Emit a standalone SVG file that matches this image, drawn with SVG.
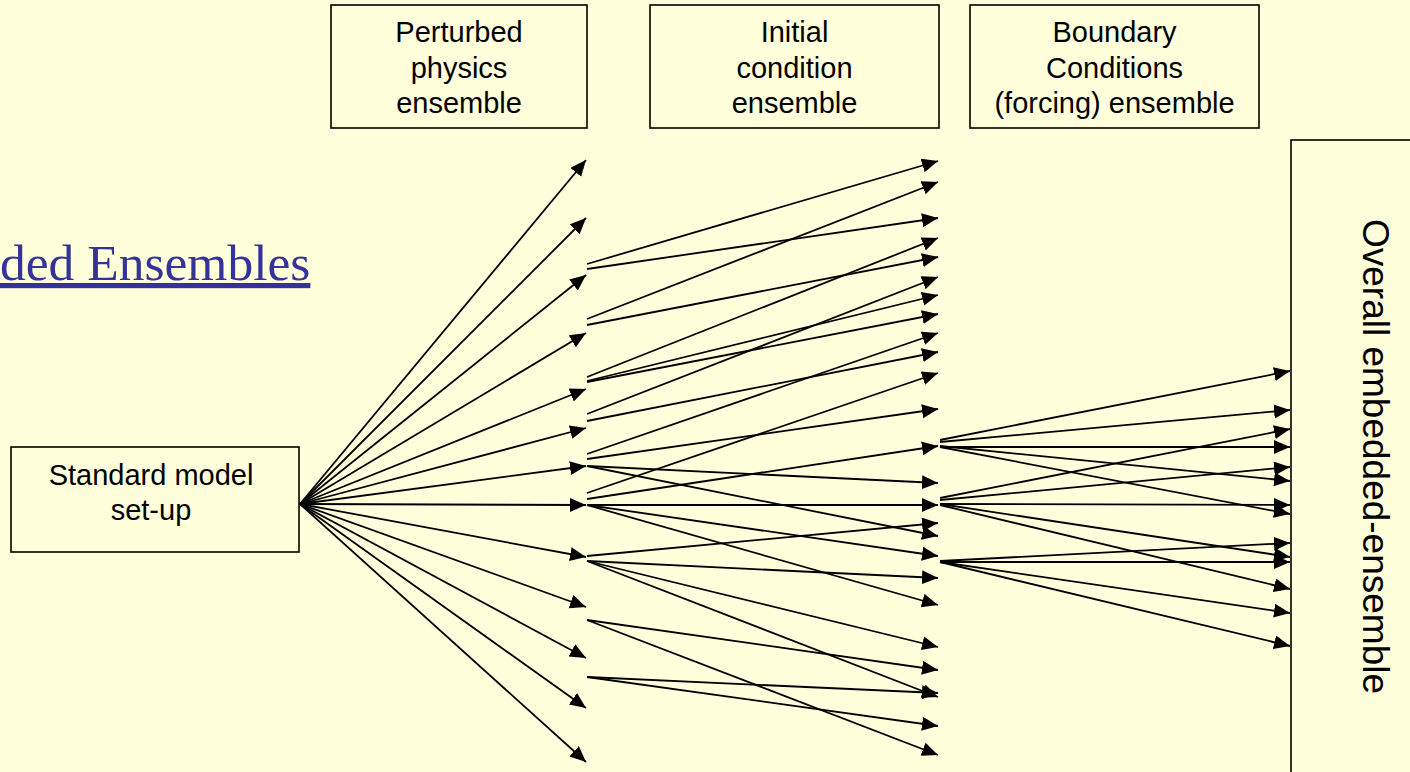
<svg xmlns="http://www.w3.org/2000/svg" width="1410" height="772" viewBox="0 0 1410 772">
<defs>
<marker id="ah" markerUnits="userSpaceOnUse" markerWidth="17" markerHeight="15" refX="16" refY="7" orient="auto">
<path d="M0,0 L16,7 L0,14 z" fill="#000"/>
</marker>
<style>
.box{fill:none;stroke:#000;stroke-width:1.6}
.lbl{font-family:"Liberation Sans",Arial,sans-serif;font-size:29px;fill:#000;text-anchor:middle}
.c line{stroke:#000;stroke-width:1.8;marker-end:url(#ah)}
</style>
</defs>
<rect width="1410" height="772" fill="#FFFFDC"/>
<text x="0" y="280" font-family="Liberation Serif,'Times New Roman',serif" font-size="51.5" fill="#333399" text-decoration="underline">ded Ensembles</text>

<g id="standard">
<rect class="box" x="11" y="447" width="288" height="105"/>
<text class="lbl" x="151" y="485">Standard model</text>
<text class="lbl" x="151" y="520">set-up</text>
</g>
<g id="perturbed">
<rect class="box" x="331" y="5" width="256" height="123"/>
<text class="lbl" x="459" y="42">Perturbed</text>
<text class="lbl" x="459" y="78">physics</text>
<text class="lbl" x="459" y="113">ensemble</text>
</g>
<g id="initial">
<rect class="box" x="650" y="5" width="289" height="123"/>
<text class="lbl" x="794.5" y="42">Initial</text>
<text class="lbl" x="794.5" y="78">condition</text>
<text class="lbl" x="794.5" y="113">ensemble</text>
</g>
<g id="boundary">
<rect class="box" x="970" y="5" width="289" height="123"/>
<text class="lbl" x="1114.5" y="42">Boundary</text>
<text class="lbl" x="1114.5" y="78">Conditions</text>
<text class="lbl" x="1114.5" y="113">(forcing) ensemble</text>
</g>
<g id="overall">
<rect class="box" x="1291" y="140" width="130" height="650"/>
<text class="lbl" style="font-size:37px" transform="translate(1363,456.5) rotate(90)">Overall embedded-ensemble</text>
</g>

<g id="connectors" class="c">
<line x1="300" y1="504" x2="586" y2="160"/>
<line x1="300" y1="504" x2="586" y2="218"/>
<line x1="300" y1="504" x2="586" y2="275"/>
<line x1="300" y1="504" x2="586" y2="333"/>
<line x1="300" y1="504" x2="586" y2="389"/>
<line x1="300" y1="504" x2="586" y2="428"/>
<line x1="300" y1="504" x2="586" y2="466"/>
<line x1="300" y1="504" x2="586" y2="505"/>
<line x1="300" y1="504" x2="586" y2="557"/>
<line x1="300" y1="504" x2="586" y2="607"/>
<line x1="300" y1="504" x2="586" y2="658"/>
<line x1="300" y1="504" x2="586" y2="708"/>
<line x1="300" y1="504" x2="586" y2="762"/>

<line x1="587" y1="264" x2="938" y2="161"/>
<line x1="587" y1="269" x2="938" y2="218"/>
<line x1="587" y1="319" x2="938" y2="182"/>
<line x1="587" y1="325" x2="938" y2="257"/>
<line x1="587" y1="377" x2="938" y2="238"/>
<line x1="587" y1="381" x2="938" y2="295"/>
<line x1="587" y1="382" x2="938" y2="314"/>
<line x1="587" y1="414" x2="938" y2="277"/>
<line x1="587" y1="421" x2="938" y2="352"/>
<line x1="587" y1="454" x2="938" y2="333"/>
<line x1="587" y1="459" x2="938" y2="409"/>
<line x1="587" y1="466" x2="938" y2="483"/>
<line x1="587" y1="466" x2="938" y2="536"/>
<line x1="587" y1="493" x2="938" y2="373"/>
<line x1="587" y1="499" x2="938" y2="446"/>
<line x1="587" y1="505" x2="938" y2="505"/>
<line x1="587" y1="505" x2="938" y2="556"/>
<line x1="587" y1="505" x2="938" y2="605"/>
<line x1="587" y1="556" x2="938" y2="523"/>
<line x1="587" y1="561" x2="938" y2="578"/>
<line x1="587" y1="561" x2="938" y2="647"/>
<line x1="587" y1="561" x2="938" y2="697"/>
<line x1="587" y1="620" x2="938" y2="670"/>
<line x1="587" y1="620" x2="938" y2="755"/>
<line x1="587" y1="677" x2="938" y2="693"/>
<line x1="587" y1="677" x2="938" y2="726"/>

<line x1="940" y1="440" x2="1290" y2="371"/>
<line x1="940" y1="442" x2="1290" y2="410"/>
<line x1="940" y1="447" x2="1290" y2="447"/>
<line x1="940" y1="446" x2="1290" y2="481"/>
<line x1="940" y1="447" x2="1290" y2="514"/>
<line x1="940" y1="498" x2="1290" y2="429"/>
<line x1="940" y1="500" x2="1290" y2="467"/>
<line x1="940" y1="504" x2="1290" y2="505"/>
<line x1="940" y1="504" x2="1290" y2="557"/>
<line x1="940" y1="505" x2="1290" y2="589"/>
<line x1="940" y1="561" x2="1290" y2="543"/>
<line x1="940" y1="562" x2="1290" y2="562"/>
<line x1="940" y1="562" x2="1290" y2="613"/>
<line x1="940" y1="562" x2="1290" y2="646"/>
</g>
</svg>
